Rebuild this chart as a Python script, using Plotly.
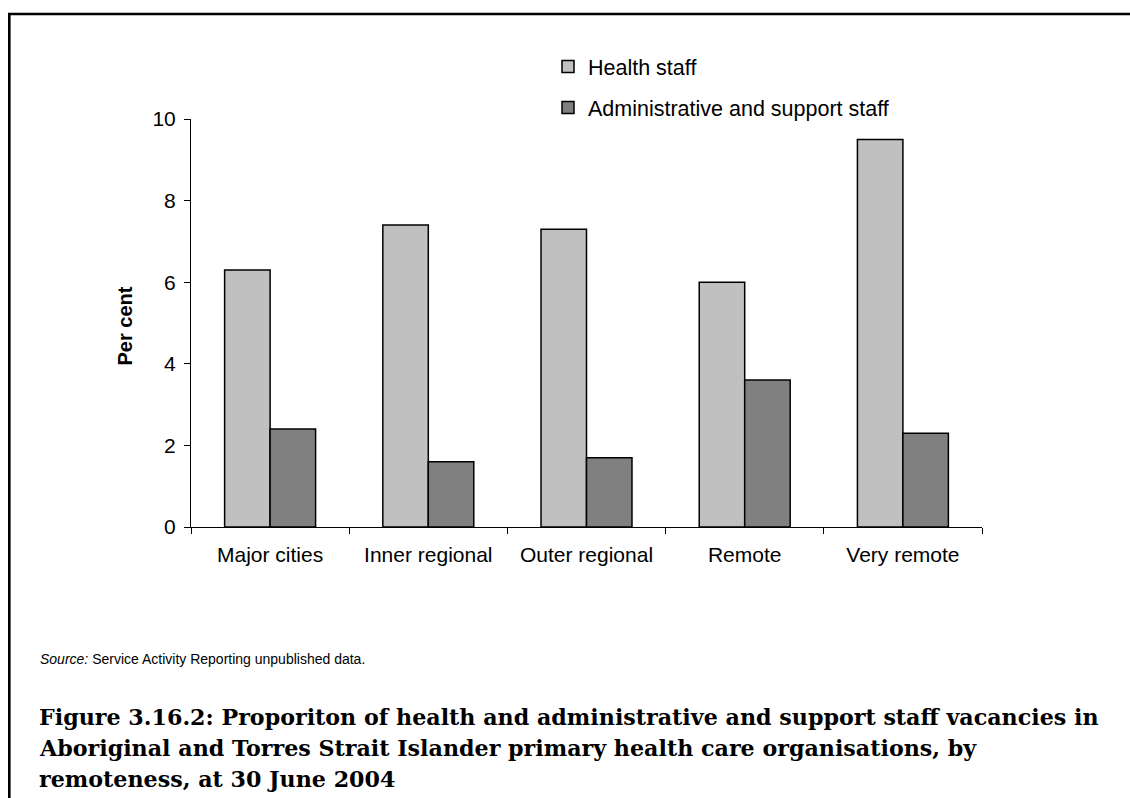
import plotly.graph_objects as go

# Vacancy proportions by remoteness (per cent)
regions = ["Major cities", "Inner regional", "Outer regional", "Remote", "Very remote"]
health_staff = [6.3, 7.4, 7.3, 6.0, 9.5]
admin_support_staff = [2.4, 1.6, 1.7, 3.6, 2.3]
y_ticks = [0, 2, 4, 6, 8, 10]

caption_lines = [
    "Figure 3.16.2: Proporiton of health and administrative and support staff vacancies in",
    "Aboriginal and Torres Strait Islander primary health care organisations, by",
    "remoteness, at 30 June 2004",
]
source_text = "<i>Source:</i> Service Activity Reporting unpublished data."

W, H = 1130, 798
ML, MR, MT, MB = 191, 148, 119, 271


def px_x(px):
    """Container pixel x -> paper coordinate."""
    return (px - ML) / (W - ML - MR)


def px_y(py):
    """Container pixel y (from top) -> paper coordinate."""
    return (H - MB - py) / (H - MT - MB)


fig = go.Figure()
fig.add_trace(go.Bar(
    x=regions, y=health_staff, name="Health staff", legendgroup="a",
    marker=dict(color="#C0C0C0", line=dict(color="black", width=1.5)),
))
fig.add_trace(go.Bar(
    x=regions, y=admin_support_staff, name="Administrative and support staff",
    legendgroup="b",
    marker=dict(color="#808080", line=dict(color="black", width=1.5)),
))

sans = "Liberation Sans, Arial, sans-serif"
axis_font = dict(family=sans, size=21, color="black")
legend_font = dict(family=sans, size=21.5, color="black")

annotations = [
    dict(xref="paper", yref="paper", x=px_x(124.5), y=px_y(326),
         xanchor="center", yanchor="middle", showarrow=False, textangle=-90,
         text="<b>Per cent</b>", font=dict(family=sans, size=20, color="black")),
    dict(xref="paper", yref="paper", x=px_x(38), y=px_y(659),
         xanchor="left", yanchor="middle", showarrow=False,
         text=source_text, font=dict(family=sans, size=14, color="black")),
]
for i, line in enumerate(caption_lines):
    annotations.append(dict(
        xref="paper", yref="paper", x=px_x(37), y=px_y(717 + 31 * i),
        xanchor="left", yanchor="middle", showarrow=False, align="left",
        text=f"<b>{line}</b>",
        font=dict(family="DejaVu Serif, serif", size=22.2, color="black"),
    ))

fig.update_layout(
    width=W, height=H,
    margin=dict(l=ML, r=MR, t=MT, b=MB, autoexpand=False),
    paper_bgcolor="white", plot_bgcolor="white",
    barmode="group", bargap=0.425, bargroupgap=0,
    font=axis_font,
    showlegend=True,
    legend=dict(
        xref="container", yref="container",
        x=548 / W, y=1 - 46 / H, xanchor="left", yanchor="top",
        font=legend_font, tracegroupgap=10, bgcolor="rgba(0,0,0,0)",
        traceorder="grouped",
    ),
    xaxis=dict(
        showline=True, linecolor="black", linewidth=1,
        ticks="outside", ticklen=6, tickcolor="black",
        tickson="boundaries", showgrid=False, zeroline=False,
        tickfont=axis_font, ticklabelstandoff=9,
    ),
    yaxis=dict(
        range=[0, 10], tickvals=y_ticks,
        showline=True, linecolor="black", linewidth=1,
        ticks="outside", ticklen=6, tickcolor="black",
        showgrid=False, zeroline=False, tickfont=axis_font,
        ticklabelstandoff=4,
    ),
    shapes=[
        dict(type="line", xref="paper", yref="paper",
             x0=px_x(9.3), x1=px_x(9.3), y0=px_y(14), y1=px_y(H + 5),
             line=dict(color="black", width=2.6)),
        dict(type="line", xref="paper", yref="paper",
             x0=px_x(8), x1=px_x(W + 5), y0=px_y(14), y1=px_y(14),
             line=dict(color="black", width=2.6)),
    ],
    annotations=annotations,
)

fig.write_html("out.html")
